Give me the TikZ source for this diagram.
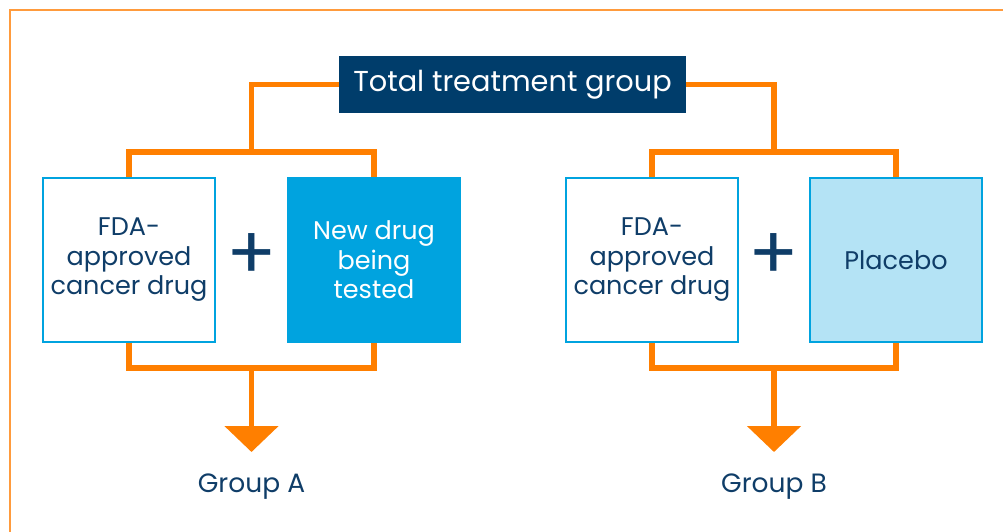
\documentclass[tikz,border=0pt]{standalone}
\usepackage{fontspec}
\setmainfont{Poppins}
\usetikzlibrary{arrows.meta}
\definecolor{navybg}{HTML}{003D6B}
\definecolor{navytxt}{HTML}{0F3D68}
\definecolor{orangeln}{HTML}{FF7F00}
\definecolor{frameor}{HTML}{FF9B3D}
\definecolor{cyanbx}{HTML}{00A3DF}
\definecolor{lightbx}{HTML}{B4E3F5}
\tikzset{
  conn/.style={draw=orangeln, line width=5.5pt, line join=miter},
  boxbase/.style={minimum width=172pt, minimum height=164pt, inner sep=0pt, align=center,
    line width=2pt, draw=cyanbx, font=\fontsize{25.5}{29.5}\selectfont},
  whitebox/.style={boxbase, fill=white, text=navytxt},
  bluebox/.style={boxbase, fill=cyanbx, text=white},
  lightbox/.style={boxbase, fill=lightbx, text=navytxt},
  titlebox/.style={fill=navybg, text=white, minimum width=347pt, minimum height=57pt, inner sep=0pt,
    font=\fontsize{28.8}{34}\selectfont},
  plussign/.style={text=navytxt, inner sep=0pt, font=\fontsize{74}{74}\selectfont},
  grouplabel/.style={text=navytxt, inner sep=0pt, anchor=base, font=\fontsize{26.5}{30}\selectfont},
  tipstyle/.style={-{Triangle[width=53pt,length=26pt]}}
}
\begin{document}
\begin{tikzpicture}[x=1pt,y=-1pt]
\useasboundingbox (0,0) rectangle (1003,531);
\begin{scope}
\clip (0,0) rectangle (1003,531);
\draw[draw=frameor, line width=2pt] (10,10) rectangle (1020,550);
\end{scope}

\node[titlebox] (T) at (512.5,84.5) {Total treatment group};

\node[whitebox] (b1) at (129,260) {FDA-\\approved\\cancer drug};
\node[bluebox]  (b2) at (374,260) {New drug\\being\\tested};
\node[whitebox] (b3) at (652,260) {FDA-\\approved\\cancer drug};
\node[lightbox] (b4) at (896,260) {Placebo};

\node[plussign] (p1) at (251.5,257) {+};
\node[plussign] (p2) at (774,257) {+};

\coordinate (jA) at (251.5,152);
\coordinate (jB) at (774,152);
\coordinate (kA) at (251.5,368);
\coordinate (kB) at (774,368);
\coordinate (tA) at (251.5,452);
\coordinate (tB) at (774,452);

\node[grouplabel] (gA) at (251.5,492) {Group A};
\node[grouplabel] (gB) at (774,492) {Group B};

\draw[conn] (T.west) -| (jA);
\draw[conn] (T.east) -| (jB);
\draw[conn] (b1.north) |- (jA) -| (b2.north);
\draw[conn] (b3.north) |- (jB) -| (b4.north);
\draw[conn] (b1.south) |- (kA) -| (b2.south);
\draw[conn] (b3.south) |- (kB) -| (b4.south);
\draw[conn, tipstyle] (kA) -- (tA);
\draw[conn, tipstyle] (kB) -- (tB);
\end{tikzpicture}
\end{document}
